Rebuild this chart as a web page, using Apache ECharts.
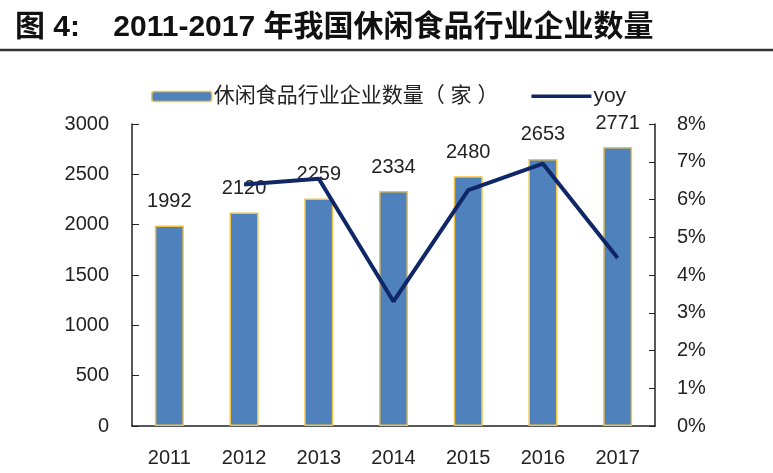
<!DOCTYPE html>
<html><head><meta charset="utf-8">
<script src="https://cdn.jsdelivr.net/npm/echarts@6/dist/echarts.min.js"></script>
<style>html,body{margin:0;padding:0;background:#fff}#c{width:773px;height:473px}</style>
</head><body><div id="c"></div>
<script>
var categories = ['2011','2012','2013','2014','2015','2016','2017'];
var companyCount = [1992, 2120, 2259, 2334, 2480, 2653, 2771];
var yoyPct = [null, 6.4, 6.55, 3.3, 6.25, 6.95, 4.45];
var leftTicks = [0, 500, 1000, 1500, 2000, 2500, 3000];
var rightTicks = [0,1,2,3,4,5,6,7,8];
var barName = '休闲食品行业企业数量（ 家 ）';
var lineName = 'yoy';
var titleText = '图 4:    2011-2017 年我国休闲食品行业企业数量';

var font = '"Liberation Sans", Arial, "Noto Sans CJK SC", sans-serif';
var chart = echarts.init(document.getElementById('c'));
chart.setOption({
  animation: false,
  backgroundColor: '#fff',
  textStyle: {fontFamily: font},
  title: {
    text: titleText, left: 10, top: 8,
    textStyle: {fontSize: 30, fontWeight: 'bold', color: '#111', fontFamily: '"Liberation Sans", "Noto Sans CJK SC", sans-serif'}
  },
  graphic: [{type: 'line', shape: {x1: 0, y1: 50, x2: 773, y2: 50}, style: {stroke: '#333', lineWidth: 2.5}}],
  legend: {
    top: 81, left: 146, itemGap: 33, itemWidth: 60, itemHeight: 10,
    textStyle: {fontSize: 21, color: '#222', fontFamily: font, padding: [0,0,0,-3]},
    data: [
      {name: barName, itemStyle: {color: '#4f81bd', borderColor: '#f2c242', borderWidth: 1.5}},
      {name: lineName, icon: 'path://M0,0 L0,0 M0,3 L60,3 L60,6.6 L0,6.6 Z M60,10 L60,10',
       itemStyle: {color: '#0f2766', borderWidth: 0}}
    ]
  },
  grid: {left: 132, right: 118, top: 124, bottom: 47},
  xAxis: {
    type: 'category', data: categories,
    axisLine: {lineStyle: {color: '#222', width: 1.5}},
    axisTick: {inside: true, length: 6, lineStyle: {color: '#222'}},
    axisLabel: {fontSize: 20, color: '#222', margin: 22}
  },
  yAxis: [
    {type: 'value', min: 0, max: 3000, interval: 500,
     axisLine: {show: true, lineStyle: {color: '#222', width: 1.5}},
     axisTick: {show: true, inside: true, length: 7, lineStyle: {color: '#222'}},
     splitLine: {show: false},
     axisLabel: {fontSize: 20, color: '#222', margin: 23, formatter: function(v){return String(v);}}},
    {type: 'value', min: 0, max: 8, interval: 1, position: 'right',
     axisLine: {show: true, lineStyle: {color: '#222', width: 1.5}},
     axisTick: {show: true, inside: true, length: 6, lineStyle: {color: '#222'}},
     splitLine: {show: false},
     axisLabel: {fontSize: 20, color: '#222', margin: 22, formatter: '{value}%'}}
  ],
  series: [
    {name: barName, type: 'bar', data: companyCount, barWidth: 29,
     itemStyle: {color: '#4f81bd', borderColor: '#f2c242', borderWidth: 1.5},
     label: {show: true, position: 'top', distance: 14, fontSize: 20, color: '#222'}},
    {name: lineName, type: 'line', yAxisIndex: 1, data: yoyPct, symbol: 'none',
     lineStyle: {color: '#0f2766', width: 4}, itemStyle: {color: '#0f2766'}}
  ]
});
</script></body></html>
